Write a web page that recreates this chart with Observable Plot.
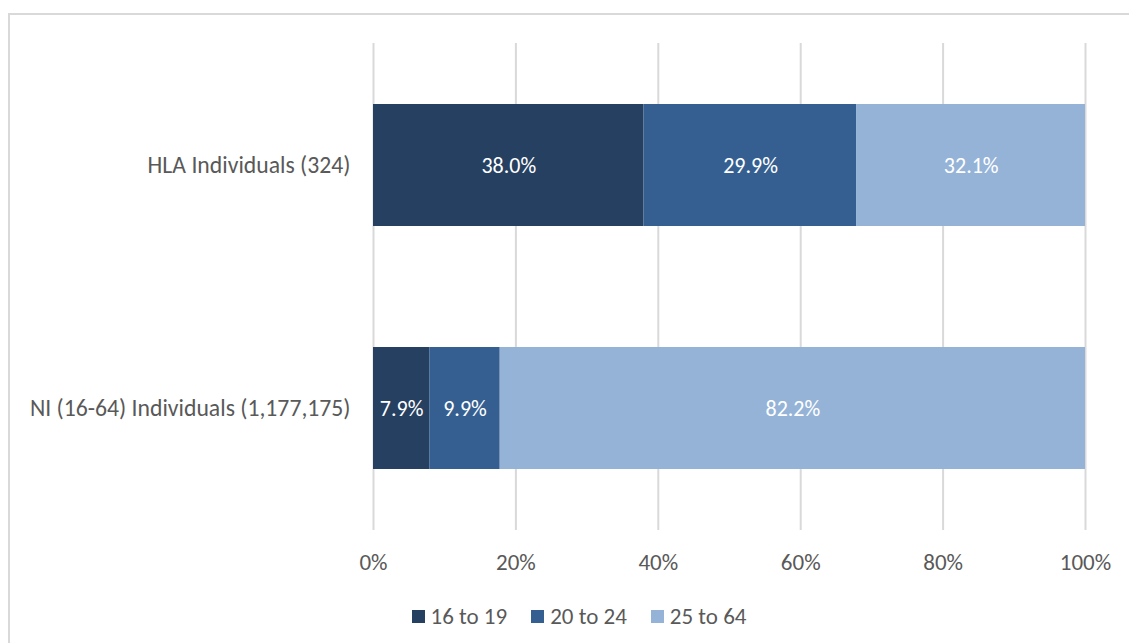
<!DOCTYPE html>
<html>
<head>
<meta charset="utf-8">
<script src="https://cdn.jsdelivr.net/npm/d3@7"></script>
<script src="https://cdn.jsdelivr.net/npm/@observablehq/plot@0.6"></script>
<style>
  html, body { margin: 0; padding: 0; background: #fff; }
  #wrap { position: relative; width: 1129px; height: 643px; overflow: hidden; font-family: Calibri, Carlito, Lato, "Open Sans", sans-serif; }
  #frame { position: absolute; left: 8px; top: 13px; width: 1200px; height: 700px; border-left: 2px solid #d9d9d9; border-top: 2px solid #d9d9d9; box-sizing: border-box; }
  #chart { position: absolute; left: 0; top: 0; }
  #legend { position: absolute; left: 29px; top: 602px; width: 1100px; display: flex; justify-content: center; font-size: 23px; color: #595959; line-height: 28px; }
  .item { display: flex; align-items: center; margin: 0 12px; }
  .sw { width: 13px; height: 13px; margin-right: 6px; }
</style>
</head>
<body>
<div id="wrap">
  <div id="frame"></div>
  <div id="chart"></div>
  <div id="legend"></div>
</div>
<script>
const groups = ["HLA Individuals (324)", "NI (16-64) Individuals (1,177,175)"];
const ageBands = ["16 to 19", "20 to 24", "25 to 64"];
const hlaValues = [38.0, 29.9, 32.1];
const niValues = [7.9, 9.9, 82.2];
const colors = ["#264061", "#355F91", "#95B3D7"];
const xTicks = [0, 20, 40, 60, 80, 100];

const data = [];
ageBands.forEach((a, i) => data.push({group: groups[0], age: a, value: hlaValues[i]}));
ageBands.forEach((a, i) => data.push({group: groups[1], age: a, value: niValues[i]}));

const FONT = "Calibri, Carlito, Lato, 'Open Sans', sans-serif";
const chart = Plot.plot({
  width: 1129,
  height: 600,
  marginLeft: 373,
  marginRight: 44,
  marginTop: 43,
  marginBottom: 70,
  style: {fontFamily: FONT, fontSize: "23px", color: "#595959", background: "transparent"},
  x: {domain: [0, 100], label: null},
  y: {domain: groups, label: null, paddingInner: 0.5, paddingOuter: 0.25, align: 0.5},
  color: {domain: ageBands, range: colors},
  marks: [
    Plot.ruleX(xTicks, {stroke: "#d9d9d9", strokeWidth: 2, strokeOpacity: 1}),
    Plot.barX(data, {x: "value", y: "group", fill: "age", order: ageBands}),
    Plot.text(data, Plot.stackX({x: "value", y: "group", z: "age", order: ageBands, text: d => d.value.toFixed(1) + "%", fill: "white", fontSize: 22})),
    Plot.axisX({ticks: xTicks, tickFormat: d => d + "%", tickSize: 0, tickPadding: 23, label: null, fill: "#595959", fontSize: 23}),
    Plot.axisY({tickSize: 0, tickPadding: 23, label: null, fill: "#595959", fontSize: 23.7})
  ]
});
document.getElementById("chart").appendChild(chart);

const legend = document.getElementById("legend");
ageBands.forEach((a, i) => {
  const item = document.createElement("div");
  item.className = "item";
  const sw = document.createElement("span");
  sw.className = "sw";
  sw.style.background = colors[i];
  const t = document.createElement("span");
  t.textContent = a;
  item.appendChild(sw);
  item.appendChild(t);
  legend.appendChild(item);
});
</script>
</body>
</html>
